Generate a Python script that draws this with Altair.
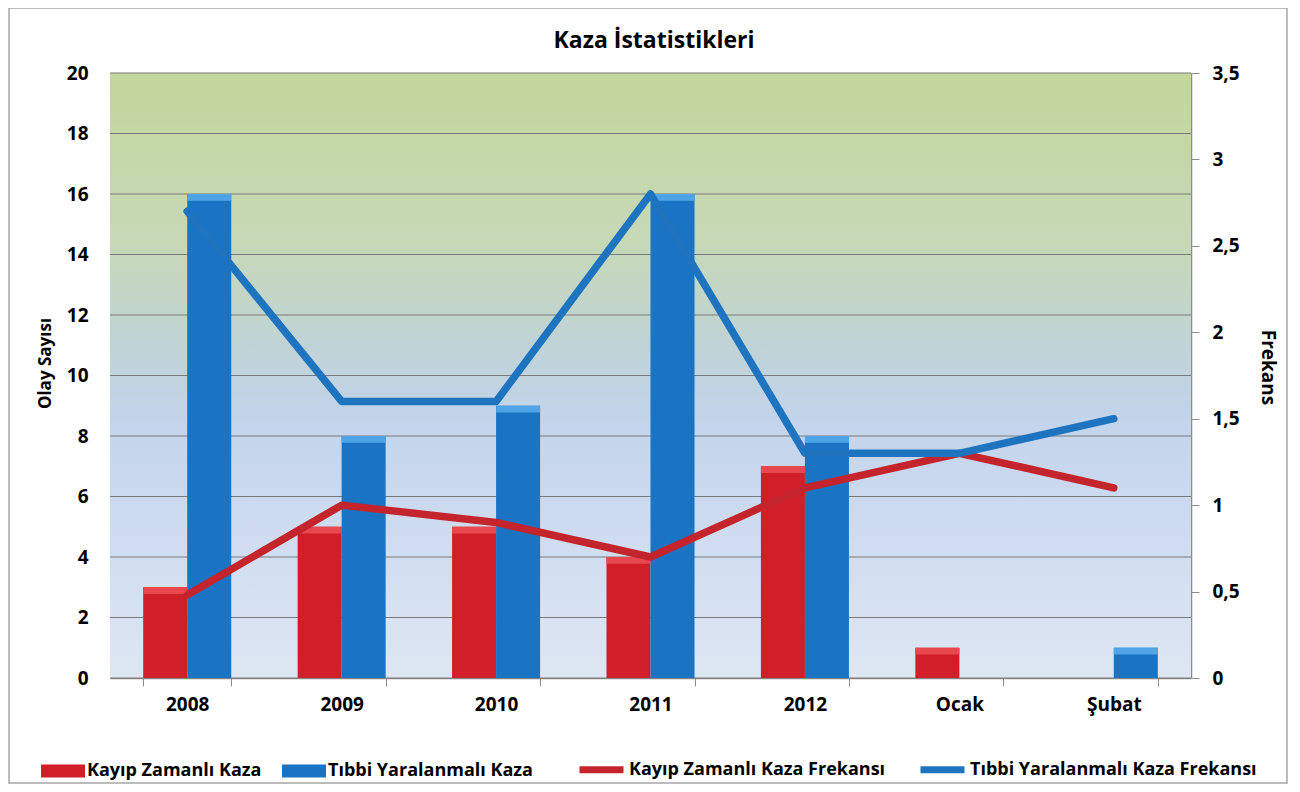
import altair as alt
import pandas as pd

chart_title = "Kaza İstatistikleri"
categories = ["2008", "2009", "2010", "2011", "2012", "Ocak", "Şubat"]
kayip_kaza = [3, 5, 5, 4, 7, 1, 0]
tibbi_kaza = [16, 8, 9, 16, 8, 0, 1]
kayip_frekans = [0.48, 1.0, 0.9, 0.7, 1.1, 1.3, 1.1]
tibbi_frekans = [2.7, 1.6, 1.6, 2.8, 1.3, 1.3, 1.5]

bar_series = ["Kayıp Zamanlı Kaza", "Tıbbi Yaralanmalı Kaza"]
line_series = ["Kayıp Zamanlı Kaza Frekansı", "Tıbbi Yaralanmalı Kaza Frekansı"]
bar_colors = ["#d01f28", "#1a73c3"]
line_colors = ["#c4242c", "#1f74c0"]
left_ticks = [0, 2, 4, 6, 8, 10, 12, 14, 16, 18, 20]
right_ticks = [0, 0.5, 1, 1.5, 2, 2.5, 3, 3.5]

rows = []
for s, vals in zip(bar_series + line_series, [kayip_kaza, tibbi_kaza, kayip_frekans, tibbi_frekans]):
    for c, v in zip(categories, vals):
        rows.append({"cat": c, "series": s, "value": v})
df = pd.DataFrame(rows)
bars_df = df[df.series.isin(bar_series)]
lines_df = df[df.series.isin(line_series)]
grid_df = pd.DataFrame({"value": left_ticks})

FONT = "Open Sans"
W, H = 1081, 605

x_enc = alt.X(
    "cat:N", sort=categories, title=None,
    scale=alt.Scale(paddingInner=0.43, paddingOuter=0.215),
    axis=alt.Axis(tickBand="extent", ticks=True, tickSize=8, tickColor="#8c8c8c",
                  domainColor="#8c8c8c", domainWidth=1.5, labelPadding=9,
                  labelAngle=0, grid=False),
)

legend_common = dict(
    orient="none", direction="horizontal", title=None, labelFont=FONT,
    labelFontSize=18, labelFontWeight="bold", labelColor="#000000",
    labelOffset=2, columnPadding=20, symbolOpacity=1, labelLimit=600,
)

bar_color = alt.Color(
    "series:N",
    scale=alt.Scale(domain=bar_series, range=bar_colors),
    legend=alt.Legend(legendX=-69, legendY=676, columns=2,
                      symbolType="M-1,-0.3L1,-0.3L1,0.3L-1,0.3Z", symbolSize=1936,
                      symbolStrokeWidth=0, **legend_common),
)

line_stroke = alt.Stroke(
    "series:N",
    scale=alt.Scale(domain=line_series, range=line_colors),
    legend=alt.Legend(legendX=466, legendY=671, columns=2,
                      symbolType="stroke", symbolSize=1936, symbolStrokeWidth=7,
                      **legend_common),
)

y_left = alt.Y(
    "value:Q", scale=alt.Scale(domain=[0, 20]),
    axis=alt.Axis(values=left_ticks, title="Olay Sayısı", ticks=False, domain=False,
                  grid=False, labelPadding=22, titleFontSize=17,
                  titleX=-65, titleY=290, titleAngle=270, titleAlign="center",
                  titleBaseline="middle"),
)

background = alt.Chart(alt.Data(values=[{}])).mark_rect(
    fill=alt.Gradient(
        gradient="linear", x1=0, y1=0, x2=0, y2=1,
        stops=[
            alt.GradientStop(offset=0, color="#c3d69b"),
            alt.GradientStop(offset=0.28, color="#c6d8b6"),
            alt.GradientStop(offset=0.45, color="#bfd3d6"),
            alt.GradientStop(offset=0.58, color="#c3d4ec"),
            alt.GradientStop(offset=1, color="#dee6f3"),
        ],
    )
).encode(x=alt.value(0), x2=alt.value(W), y=alt.value(0), y2=alt.value(H))

frame = alt.Chart(alt.Data(values=[{}])).mark_rect(
    fill="transparent", stroke="#a6a6a6", strokeWidth=1.5
).encode(
    x=alt.value(-101), x2=alt.value(1177), y=alt.value(-65), y2=alt.value(710)
)

title_mark = alt.Chart(alt.Data(values=[{"t": chart_title}])).mark_text(
    font=FONT, fontSize=23, fontWeight="bold", color="#000000",
    align="center", baseline="middle"
).encode(text="t:N", x=alt.value(544), y=alt.value(-32))

grid = alt.Chart(grid_df).mark_rule(color="#7a7a7a", strokeWidth=1.2).encode(y=y_left)

bars = alt.Chart(bars_df).mark_bar().encode(
    x=x_enc,
    xOffset=alt.XOffset("series:N", sort=bar_series, scale=alt.Scale(paddingInner=0)),
    y=y_left,
    color=bar_color,
)

caps = alt.Chart(bars_df).transform_filter("datum.value > 0").transform_calculate(
    cap="max(datum.value - 0.22, 0)"
).mark_bar().encode(
    x=x_enc,
    xOffset=alt.XOffset("series:N", sort=bar_series, scale=alt.Scale(paddingInner=0)),
    y=y_left,
    y2="cap:Q",
    fill=alt.condition("datum.series == 'Kayıp Zamanlı Kaza'", alt.value("#e8474d"), alt.value("#4ea4e6")),
)

lines = alt.Chart(lines_df).mark_line(
    strokeWidth=7.5, strokeCap="round", strokeJoin="round"
).encode(
    x=x_enc,
    y=alt.Y(
        "value:Q", scale=alt.Scale(domain=[0, 3.5]),
        axis=alt.Axis(orient="right", values=right_ticks, title="Frekans", grid=False,
                      ticks=True, tickSize=8, tickColor="#8c8c8c", domain=True,
                      domainColor="#8c8c8c", domainWidth=1.5, labelPadding=13,
                      labelExpr="replace(format(datum.value, '.1~f'), '.', ',')",
                      titleFontSize=19,
                      titleX=76, titleY=294, titleAngle=90, titleAlign="center",
                      titleBaseline="middle"),
    ),
    stroke=line_stroke,
)

left_group = alt.layer(background, frame, title_mark, grid, bars, caps)
chart = alt.layer(left_group, lines).resolve_scale(y="independent").properties(
    width=W, height=H,
    autosize=alt.AutoSizeParams(type="none"),
    padding={"left": 102, "top": 65, "right": 101, "bottom": 106},
).configure(background="white").configure_view(
    stroke=None,
).configure_axis(
    labelFont=FONT, labelFontSize=19, labelFontWeight="bold", labelColor="#000000",
    titleFont=FONT, titleFontWeight="bold", titleColor="#000000",
)

chart.save("out.html", embed_options={"renderer": "svg", "actions": False})
